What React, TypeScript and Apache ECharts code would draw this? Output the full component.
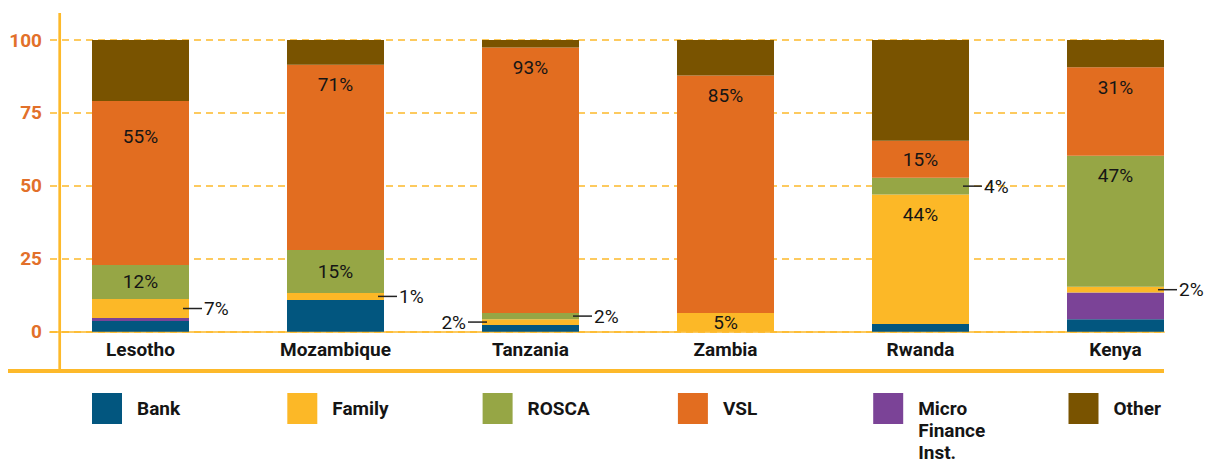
import React, { useEffect, useRef } from "react";
import * as echarts from "echarts";

// ---- data ----
const categories = ["Lesotho", "Mozambique", "Tanzania", "Zambia", "Rwanda", "Kenya"];
const bankValues = [3.7, 10.9, 2.3, 0, 2.6, 4.3];
const mfiValues = [1.0, 0, 0, 0, 0, 9.1];
const familyValues = [6.5, 2.4, 2.0, 6.4, 44.4, 2.0];
const roscaValues = [11.7, 14.7, 2.1, 0, 5.8, 44.9];
const vslValues = [56.2, 63.5, 91.0, 81.4, 12.7, 30.4];
const otherValues = [20.9, 8.5, 2.6, 12.2, 34.5, 9.3];

const familyLabels = ["7%", "1%", "2%", "5%", "44%", "2%"];
const roscaLabels = ["12%", "15%", "2%", "", "4%", "47%"];
const vslLabels = ["55%", "71%", "93%", "85%", "15%", "31%"];

const yTicks = [0, 25, 50, 75, 100];
const legendOrder = ["Bank", "Family", "ROSCA", "VSL", "Micro Finance Inst.", "Other"];

// ---- styles ----
const COLORS: Record<string, string> = {
  Bank: "#02567F",
  "Micro Finance Inst.": "#7B4397",
  Family: "#FCB827",
  ROSCA: "#96A645",
  VSL: "#E26D20",
  Other: "#795300",
};
const AXIS = "#FDB92A";
const FONT = "Roboto";
const TXT = "#151515";
const LBL_SIZE = 19;

const rich = {
  ln: { width: 19, height: 1.5, backgroundColor: "#222" },
  t: { fontSize: LBL_SIZE, color: TXT, fontFamily: FONT, padding: [0, 2, 0, 2] },
};

function lbl(text: string, kind: string, topOff = 20): any {
  if (!text) return { show: false };
  const base = { show: true, fontFamily: FONT, fontSize: LBL_SIZE, color: TXT };
  if (kind === "inside") return { ...base, position: "inside", formatter: text };
  if (kind === "top")
    return { ...base, position: ["50%", topOff], align: "center", verticalAlign: "middle", formatter: text };
  if (kind === "right")
    return { ...base, position: ["100%", "50%"], offset: [-6, 0], align: "left", verticalAlign: "middle", formatter: "{ln|}{t|" + text + "}", rich };
  return { ...base, position: [0, "50%"], offset: [5, 0], align: "right", verticalAlign: "middle", formatter: "{t|" + text + "}{ln|}", rich };
}

const familyPlace = ["right", "right", "left", "inside", "top", "right"];
const roscaPlace = ["inside", "inside", "right", "inside", "right", "top"];
const vslPlace = ["top", "top", "top", "top", "inside", "top"];
const vslTopOff = [36, 20, 20, 20, 20, 20];

export default function App() {
  const ref = useRef<HTMLDivElement>(null);
  useEffect(() => {
    document.body.style.margin = "0";
    const chart = echarts.init(ref.current!, null, { renderer: "svg" });
    const mk = (name: string, values: number[], labels?: (i: number) => any) => ({
      name,
      type: "bar",
      stack: "total",
      barWidth: 97,
      xAxisIndex: 0,
      yAxisIndex: 0,
      itemStyle: { color: COLORS[name] },
      data: values.map((v, i) => ({ value: v, label: labels ? labels(i) : { show: false } })),
    });
    const LH = 22;
    const legends = legendOrder.map((name, i) => {
      const multi = name === "Micro Finance Inst.";
      return {
        data: [name],
        left: 92 + i * 195.3,
        top: multi ? 393 - (5 * LH - 31) / 2 : 393,
        padding: 0,
        orient: "horizontal",
        icon: "rect",
        itemWidth: 30,
        itemHeight: 31,
        selectedMode: false,
        formatter: multi ? () => " \n \nMicro\nFinance\nInst." : undefined,
        textStyle: {
          fontFamily: FONT,
          fontWeight: "bold",
          fontSize: 19,
          color: TXT,
          lineHeight: LH,
          padding: [0, 0, 0, 10],
        },
      };
    });
    chart.setOption({
      animation: false,
      backgroundColor: "#fff",
      textStyle: { fontFamily: FONT },
      grid: [
        { left: 43, right: 3, top: 40, bottom: 132.3 },
        { left: 50, right: 52, top: 40, bottom: 132.3 },
      ],
      legend: legends,
      xAxis: [
        {
          gridIndex: 0,
          type: "category",
          data: categories,
          axisLine: { show: false },
          axisTick: { show: false },
          axisLabel: { fontFamily: FONT, fontWeight: "bold", fontSize: 19, color: TXT, margin: 8 },
        },
        {
          gridIndex: 1,
          type: "value",
          min: 0,
          max: 1,
          axisLine: { show: true, lineStyle: { color: AXIS, width: 1.7 } },
          axisTick: { show: false },
          axisLabel: { show: false },
          splitLine: { show: false },
        },
      ],
      yAxis: [
        { gridIndex: 0, type: "value", min: 0, max: 100, show: false },
        {
          gridIndex: 1,
          type: "value",
          min: yTicks[0],
          max: yTicks[yTicks.length - 1],
          interval: 25,
          axisLine: { show: false },
          axisTick: { show: false },
          axisLabel: { fontFamily: FONT, fontWeight: "bold", fontSize: 19, color: "#E2702A", margin: 8 },
          splitLine: { show: true, lineStyle: { color: AXIS, width: 1.5, type: [7, 5] } },
        },
      ],
      graphic: [
        { type: "line", z: 10, shape: { x1: 59.7, y1: 13, x2: 59.7, y2: 373 }, style: { stroke: AXIS, lineWidth: 2.7 } },
        { type: "line", z: 10, shape: { x1: 8, y1: 371, x2: 1164, y2: 371 }, style: { stroke: AXIS, lineWidth: 4 } },
      ],
      series: [
        mk("Bank", bankValues),
        mk("Micro Finance Inst.", mfiValues),
        mk("Family", familyValues, (i) => lbl(familyLabels[i], familyPlace[i])),
        mk("ROSCA", roscaValues, (i) => lbl(roscaLabels[i], roscaPlace[i])),
        mk("VSL", vslValues, (i) => lbl(vslLabels[i], vslPlace[i], vslTopOff[i])),
        mk("Other", otherValues),
      ],
    });
    return () => chart.dispose();
  }, []);
  return <div ref={ref} style={{ width: 1216, height: 464 }} />;
}
